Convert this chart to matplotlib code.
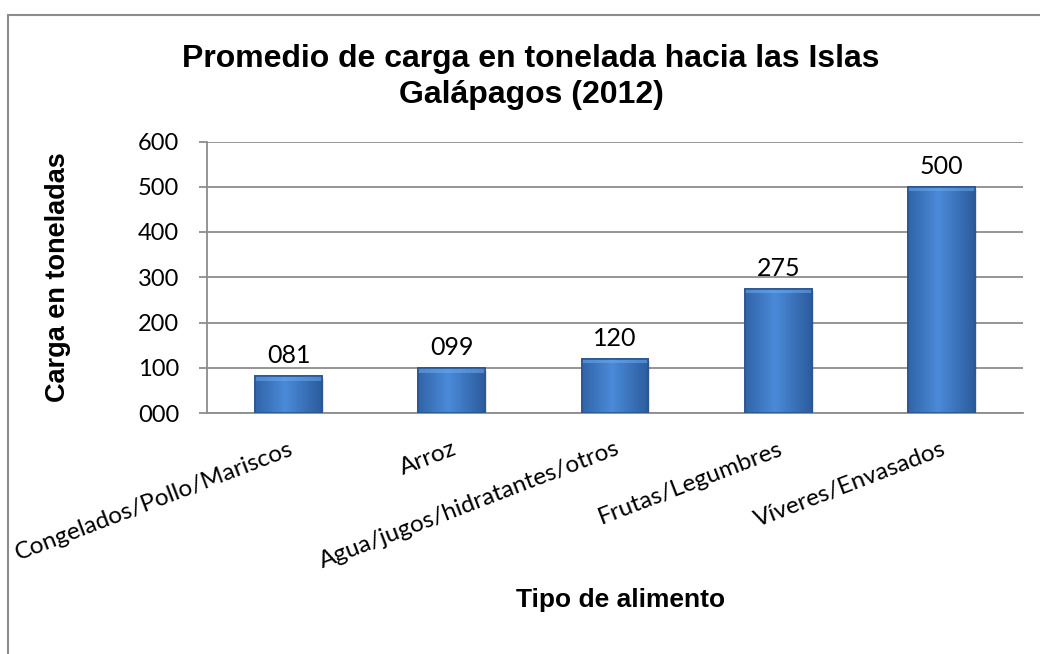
import matplotlib
matplotlib.use("Agg")
import matplotlib.pyplot as plt
import matplotlib.patches as patches
from matplotlib.ticker import FuncFormatter
import numpy as np

# datos
categorias = ["Congelados/Pollo/Mariscos", "Arroz", "Agua/jugos/hidratantes/otros",
              "Frutas/Legumbres", "Víveres/Envasados"]
toneladas = [81, 99, 120, 275, 500]
yticks = [0, 100, 200, 300, 400, 500, 600]

titulo = "Promedio de carga en tonelada hacia las Islas\nGalápagos (2012)"
ylabel = "Carga en toneladas"
xlabel = "Tipo de alimento"

W, H = 1040, 654
fig = plt.figure(figsize=(W / 100, H / 100), dpi=100)

# marco gris del gráfico
fig.patches.append(patches.Rectangle((8 / W, -0.1), 2, 1 - 15 / H + 0.1,
                                     transform=fig.transFigure, fill=False,
                                     edgecolor="#8c8c8c", lw=1.5))

ax = fig.add_axes([207 / W, 1 - 413 / H, (1023 - 207) / W, (413 - 141.5) / H])
x = np.arange(len(categorias))
ancho = 0.41

# sombra
ax.bar(x + 0.012, toneladas, width=ancho, bottom=-6, color="#000000", alpha=0.12, zorder=2)
barras = ax.bar(x, toneladas, width=ancho, color="#3b78c6", edgecolor="#2a5690",
                linewidth=1.2, zorder=3)

# degradado horizontal dentro de cada barra
grad = np.linspace(0, 1, 64)
grad = 1 - np.abs(grad - 0.45) * 1.4
cmap = matplotlib.colors.LinearSegmentedColormap.from_list("b", ["#2c5c9e", "#4a8ad8"])
for b in barras:
    bx, bw, bh = b.get_x(), b.get_width(), b.get_height()
    im = ax.imshow(grad[np.newaxis, :], extent=[bx, bx + bw, 0, bh], aspect="auto",
                   cmap=cmap, zorder=3.1, origin="lower")
    im.set_clip_path(b)
    # bisel superior
    ax.add_patch(patches.Rectangle((bx, bh - 10), bw, 10, color="#6aaaf0", alpha=0.55,
                                   zorder=3.2, lw=0))
    ax.add_patch(patches.Rectangle((bx, 0), bw, bh, fill=False, edgecolor="#2a5690",
                                   lw=1.2, zorder=3.3))

for xi, v in zip(x, toneladas):
    ax.text(xi, v + 20, f"{v:03d}", ha="center", va="bottom", fontsize=18,
            family="Lato", color="#000000")

ax.set_ylim(0, 600)
ax.set_xlim(-0.5, len(categorias) - 0.5)
ax.set_yticks(yticks)
ax.yaxis.set_major_formatter(FuncFormatter(lambda v, p: f"{int(v):03d}"))
ax.grid(axis="y", color="#8c8c8c", lw=1.3, zorder=0)
ax.set_axisbelow(True)

for s in ["top", "right"]:
    ax.spines[s].set_visible(False)
for s in ["left", "bottom"]:
    ax.spines[s].set_color("#8c8c8c")
    ax.spines[s].set_linewidth(1.3)

ax.tick_params(axis="y", length=6, width=1.3, color="#8c8c8c", labelsize=17, pad=14)
ax.tick_params(axis="x", length=0, labelsize=17.5, pad=18)
for lbl in ax.get_yticklabels():
    lbl.set_family("Lato")

ax.set_xticks(x)
ax.set_xticklabels(categorias, rotation=21, ha="right", rotation_mode="anchor",
                   family="Lato")

ax.set_ylabel(ylabel, fontsize=19.5, fontweight="bold", family="Liberation Sans")
ax.yaxis.set_label_coords(-(207 - 58) / 816, 0.5)
ax.set_xlabel(xlabel, fontsize=19, fontweight="bold", family="Liberation Sans")
ax.xaxis.set_label_coords(0.507, -(600 - 413) / 271.5)
ax.xaxis.label.set_va("center")
ax.yaxis.label.set_va("center")

fig.text(531 / W, 1 - 77 / H, titulo, ha="center", va="center", fontsize=23,
         fontweight="bold", family="Liberation Sans", linespacing=1.25)

fig.savefig("out.png", dpi=100)
